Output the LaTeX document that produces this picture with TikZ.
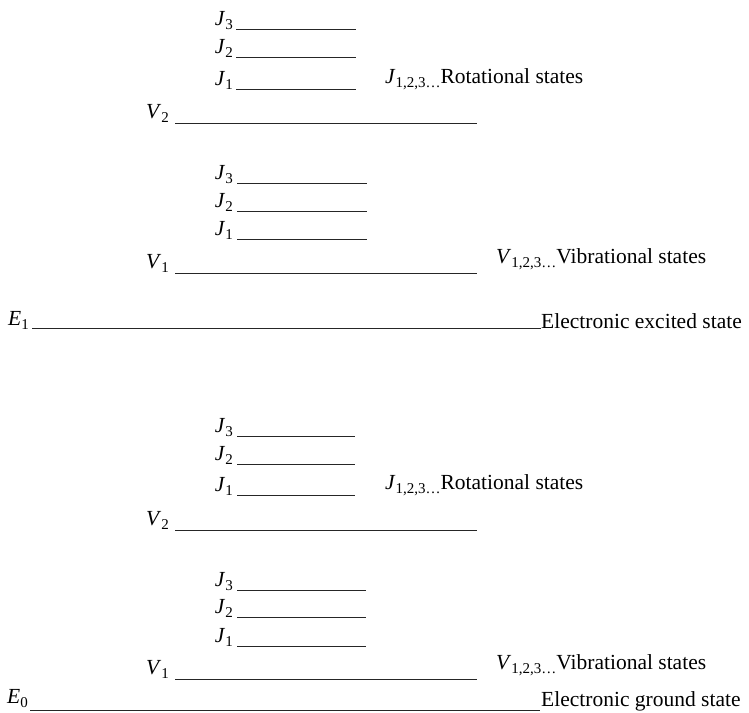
\documentclass[tikz,border=0pt]{standalone}
\usepackage{fontspec}
\setmainfont{Liberation Serif}
\newcommand\lvlsub[2]{\textit{#1}\raisebox{-4pt}{\fontsize{15}{15}\selectfont #2}}
\tikzset{
  levelline/.style={line width=1pt, black!85},
  lbl/.style={inner sep=0pt, font=\fontsize{21.5}{25}\selectfont},
  leftlbl/.style={lbl, anchor=base east},
  rightlbl/.style={lbl, anchor=base west}
}
\begin{document}
\begin{tikzpicture}[x=1pt,y=-1pt]
\useasboundingbox (0,0) rectangle (749,712);

% ---------- Excited state, V2 block ----------
\coordinate (a3s) at (236,29);  \coordinate (a3e) at (356,29);
\coordinate (a2s) at (236,57);  \coordinate (a2e) at (356,57);
\coordinate (a1s) at (236,89);  \coordinate (a1e) at (356,89);
\coordinate (avs) at (175,123); \coordinate (ave) at (477,123);
\draw[levelline] (a3s) -- (a3e);
\draw[levelline] (a2s) -- (a2e);
\draw[levelline] (a1s) -- (a1e);
\draw[levelline] (avs) -- (ave);
\node[leftlbl] (a3l) at (233,25) {\lvlsub{J}{3}};
\node[leftlbl] (a2l) at (233,53) {\lvlsub{J}{2}};
\node[leftlbl] (a1l) at (233,85) {\lvlsub{J}{1}};
\node[leftlbl] (avl) at (169,118) {\lvlsub{V}{2}};
\node[rightlbl] (arot) at (385,83) {\lvlsub{J}{1,2,3…}Rotational states};

% ---------- Excited state, V1 block ----------
\coordinate (b3s) at (237,183); \coordinate (b3e) at (367,183);
\coordinate (b2s) at (237,211); \coordinate (b2e) at (367,211);
\coordinate (b1s) at (237,239); \coordinate (b1e) at (367,239);
\coordinate (bvs) at (175,273); \coordinate (bve) at (477,273);
\draw[levelline] (b3s) -- (b3e);
\draw[levelline] (b2s) -- (b2e);
\draw[levelline] (b1s) -- (b1e);
\draw[levelline] (bvs) -- (bve);
\node[leftlbl] (b3l) at (233,179) {\lvlsub{J}{3}};
\node[leftlbl] (b2l) at (233,207) {\lvlsub{J}{2}};
\node[leftlbl] (b1l) at (233,235) {\lvlsub{J}{1}};
\node[leftlbl] (bvl) at (169,268) {\lvlsub{V}{1}};
\node[rightlbl] (bvib) at (496,263) {\lvlsub{V}{1,2,3…}Vibrational states};

% ---------- Electronic excited state ----------
\coordinate (e1s) at (32,328); \coordinate (e1e) at (541,328);
\draw[levelline] (e1s) -- (e1e);
\node[leftlbl] (e1l) at (29,325) {\lvlsub{E}{1}};
\node[rightlbl] (e1t) at (541,328) {Electronic excited state};

% ---------- Ground state, V2 block ----------
\coordinate (c3s) at (237,436); \coordinate (c3e) at (355,436);
\coordinate (c2s) at (237,464); \coordinate (c2e) at (355,464);
\coordinate (c1s) at (237,495); \coordinate (c1e) at (355,495);
\coordinate (cvs) at (175,530); \coordinate (cve) at (477,530);
\draw[levelline] (c3s) -- (c3e);
\draw[levelline] (c2s) -- (c2e);
\draw[levelline] (c1s) -- (c1e);
\draw[levelline] (cvs) -- (cve);
\node[leftlbl] (c3l) at (233,432) {\lvlsub{J}{3}};
\node[leftlbl] (c2l) at (233,460) {\lvlsub{J}{2}};
\node[leftlbl] (c1l) at (233,491) {\lvlsub{J}{1}};
\node[leftlbl] (cvl) at (169,525) {\lvlsub{V}{2}};
\node[rightlbl] (crot) at (385,489) {\lvlsub{J}{1,2,3…}Rotational states};

% ---------- Ground state, V1 block ----------
\coordinate (d3s) at (237,590); \coordinate (d3e) at (366,590);
\coordinate (d2s) at (237,617); \coordinate (d2e) at (366,617);
\coordinate (d1s) at (237,646); \coordinate (d1e) at (366,646);
\coordinate (dvs) at (175,679); \coordinate (dve) at (477,679);
\draw[levelline] (d3s) -- (d3e);
\draw[levelline] (d2s) -- (d2e);
\draw[levelline] (d1s) -- (d1e);
\draw[levelline] (dvs) -- (dve);
\node[leftlbl] (d3l) at (233,586) {\lvlsub{J}{3}};
\node[leftlbl] (d2l) at (233,613) {\lvlsub{J}{2}};
\node[leftlbl] (d1l) at (233,642) {\lvlsub{J}{1}};
\node[leftlbl] (dvl) at (169,674) {\lvlsub{V}{1}};
\node[rightlbl] (dvib) at (496,669) {\lvlsub{V}{1,2,3…}Vibrational states};

% ---------- Electronic ground state ----------
\coordinate (e0s) at (30,710); \coordinate (e0e) at (540,710);
\draw[levelline] (e0s) -- (e0e);
\node[leftlbl] (e0l) at (28,703) {\lvlsub{E}{0}};
\node[rightlbl] (e0t) at (541,706) {Electronic ground state};
\end{tikzpicture}
\end{document}
